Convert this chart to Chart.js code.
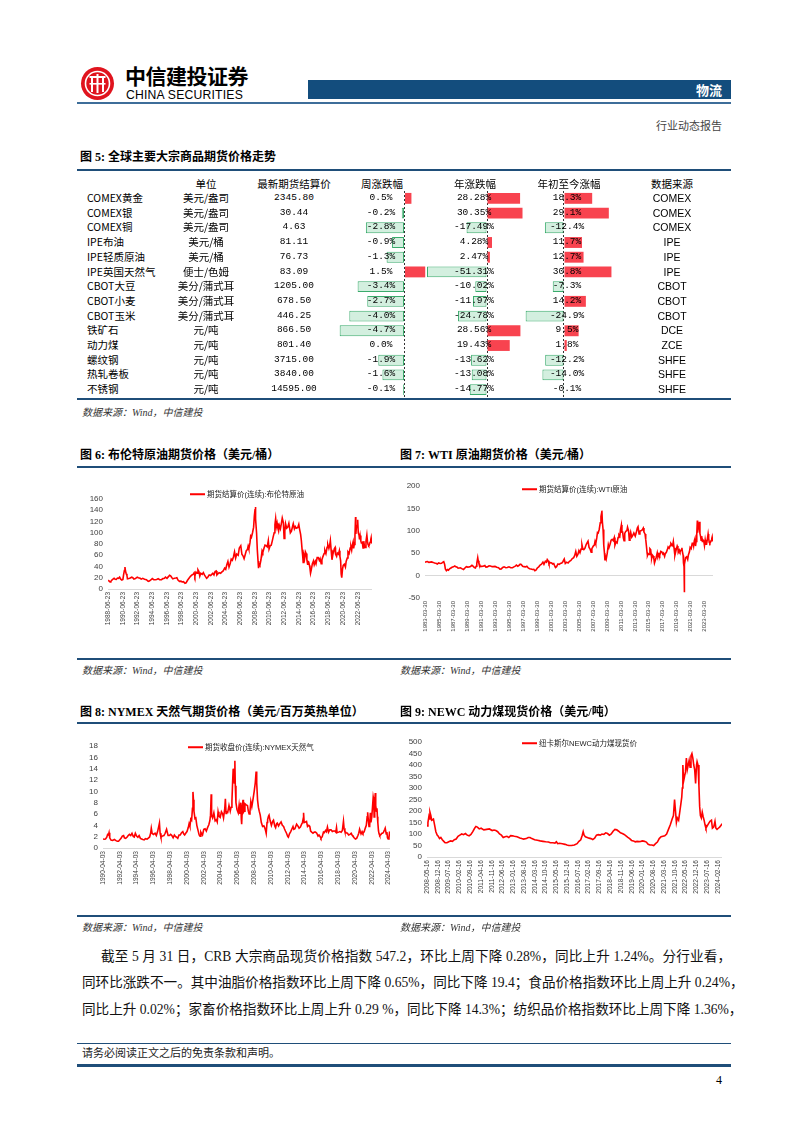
<!DOCTYPE html>
<html>
<head>
<meta charset="utf-8">
<script src="https://cdn.jsdelivr.net/npm/chart.js@4.4.1/dist/chart.umd.min.js"></script>
<style>
body{margin:0;background:#fff;}
#page{position:relative;width:802px;height:1133px;overflow:hidden;font-family:'Liberation Serif','Noto Sans CJK SC',serif;color:#000;}
.abs{position:absolute;white-space:nowrap;line-height:1.2;}
.rule{position:absolute;left:77px;width:654px;background:#1f4e79;}
canvas{position:absolute;}
</style>
</head>
<body>
<div id="page">
  <svg style="position:absolute;left:80px;top:66px" width="35" height="35" viewBox="0 0 35 35">
    <circle cx="17.5" cy="17.5" r="16.5" fill="#e0141e"/>
    <circle cx="17.5" cy="17.5" r="12" fill="none" stroke="#fff" stroke-width="1.6"/>
    <rect x="9.5" y="10" width="16" height="2" fill="#fff"/>
    <rect x="11" y="12" width="2" height="14" fill="#fff"/>
    <rect x="16.5" y="8" width="2" height="19" fill="#fff"/>
    <rect x="22" y="12" width="2" height="14" fill="#fff"/>
    <rect x="9.5" y="17" width="16" height="1.6" fill="#fff"/>
  </svg>
  <div style="position:absolute;left:308px;top:80px;width:423px;height:19px;background:#134d7d"></div>
  <div class="rule" style="top:102px;height:2px;background:#3d6d99"></div>
  <div class="rule" style="top:169px;height:2px"></div>
  <div class="rule" style="top:398px;height:2px"></div>
  <div class="rule" style="top:466px;height:2px"></div>
  <div class="rule" style="top:658px;height:2px"></div>
  <div class="rule" style="top:722px;height:2px"></div>
  <div class="rule" style="top:915px;height:2px"></div>
  <div class="rule" style="top:1043px;height:1px"></div>
  <div class="rule" style="top:1064px;height:3px"></div>

  <canvas id="barWeek" width="110" height="206" style="left:330px;top:191px"></canvas>
  <canvas id="barYear" width="110" height="206" style="left:420px;top:191px"></canvas>
  <canvas id="barYtd" width="110" height="206" style="left:515px;top:191px"></canvas>

  <canvas id="brent" width="300" height="152" style="left:78px;top:485px"></canvas>
  <canvas id="wti" width="328" height="166" style="left:392px;top:476px"></canvas>
  <canvas id="ng" width="320" height="162" style="left:76px;top:736px"></canvas>
  <canvas id="coal" width="336" height="175" style="left:392px;top:732px"></canvas>
</div>

<script>
// ---- 图5 表格数据 ----
const names = ['COMEX黄金','COMEX银','COMEX铜','IPE布油','IPE轻质原油','IPE英国天然气','CBOT大豆','CBOT小麦','CBOT玉米','铁矿石','动力煤','螺纹钢','热轧卷板','不锈钢'];
const units = ['美元/盎司','美元/盎司','美元/盎司','美元/桶','美元/桶','便士/色姆','美分/蒲式耳','美分/蒲式耳','美分/蒲式耳','元/吨','元/吨','元/吨','元/吨','元/吨'];
const prices = [2345.80, 30.44, 4.63, 81.11, 76.73, 83.09, 1205.00, 678.50, 446.25, 866.50, 801.40, 3715.00, 3840.00, 14595.00];
const weekChg = [0.5, -0.2, -2.8, -0.9, -1.3, 1.5, -3.4, -2.7, -4.0, -4.7, 0.0, -1.9, -1.6, -0.1];
const yearChg = [28.28, 30.35, -17.49, 4.28, 2.47, -51.31, -10.02, -11.97, -24.78, 28.56, 19.43, -13.62, -13.08, -14.77];
const ytdChg = [18.3, 29.1, -12.4, 11.7, 12.7, 30.8, -7.3, 14.2, -24.9, 9.5, 1.8, -12.2, -14.0, -0.1];
const sources = ['COMEX','COMEX','COMEX','IPE','IPE','IPE','CBOT','CBOT','CBOT','DCE','ZCE','SHFE','SHFE','SHFE'];
const tableHeads = ['单位','最新期货结算价','周涨跌幅','年涨跌幅','年初至今涨幅','数据来源'];

// ---- 图6 布伦特 [年, 价格] ----
const brentTicks = ['1988-06-23','1990-06-23','1992-06-23','1994-06-23','1996-06-23','1998-06-23','2000-06-23','2002-06-23','2004-06-23','2006-06-23','2008-06-23','2010-06-23','2012-06-23','2014-06-23','2016-06-23','2018-06-23','2020-06-23','2022-06-23'];
const brent = [[1988.48,15.5],[1988.6,14.5],[1988.75,12.5],[1988.85,13.5],[1989.0,16],[1989.15,17.5],[1989.3,19],[1989.45,17.5],[1989.6,17],[1989.75,19.5],[1989.9,19],[1990.05,21],[1990.2,17.5],[1990.35,16],[1990.5,17],[1990.6,26],[1990.7,33],[1990.78,39],[1990.85,32],[1990.95,27],[1991.05,24],[1991.12,18],[1991.3,18.5],[1991.5,19.5],[1991.7,21],[1991.85,20],[1992.0,17.5],[1992.2,18.5],[1992.45,21],[1992.6,20],[1992.85,19],[1993.0,17.5],[1993.2,19],[1993.45,17.5],[1993.7,16.5],[1993.95,13.5],[1994.1,14],[1994.3,16],[1994.5,18.5],[1994.7,16.5],[1994.9,16.5],[1995.1,17],[1995.3,18.5],[1995.5,16.5],[1995.75,16.5],[1995.95,18.5],[1996.15,19],[1996.3,21],[1996.5,19],[1996.7,22],[1996.85,24.5],[1997.0,23.5],[1997.15,20.5],[1997.3,18],[1997.5,19],[1997.7,19.5],[1997.85,20],[1998.0,16],[1998.2,13.5],[1998.4,14],[1998.55,12.5],[1998.75,13],[1998.95,10],[1999.1,11],[1999.3,15.5],[1999.5,19],[1999.7,22.5],[1999.9,25],[2000.05,26],[2000.2,29],[2000.3,23],[2000.45,30],[2000.6,28],[2000.72,34],[2000.85,31],[2000.97,23],[2001.1,28],[2001.3,26],[2001.45,29],[2001.6,25],[2001.75,22],[2001.9,19],[2002.05,21],[2002.25,25],[2002.45,24],[2002.6,26],[2002.75,28],[2002.9,25],[2003.05,31],[2003.2,32],[2003.3,25],[2003.45,27],[2003.6,29],[2003.8,28],[2003.95,30],[2004.15,32],[2004.35,37],[2004.5,35],[2004.65,43],[2004.8,49],[2004.95,39],[2005.1,45],[2005.25,53],[2005.4,51],[2005.55,57],[2005.7,66],[2005.85,55],[2006.0,62],[2006.2,60],[2006.35,73],[2006.55,77],[2006.7,62],[2006.85,59],[2007.0,54],[2007.15,61],[2007.3,68],[2007.45,70],[2007.55,76],[2007.65,71],[2007.8,82],[2007.9,94],[2008.0,92],[2008.15,100],[2008.3,110],[2008.4,130],[2008.5,142],[2008.53,146],[2008.6,125],[2008.7,100],[2008.8,70],[2008.9,50],[2008.97,37],[2009.05,44],[2009.15,42],[2009.3,52],[2009.45,68],[2009.55,65],[2009.7,72],[2009.85,78],[2010.0,77],[2010.15,75],[2010.3,86],[2010.4,71],[2010.55,77],[2010.7,78],[2010.85,86],[2010.97,93],[2011.1,100],[2011.2,114],[2011.3,125],[2011.4,111],[2011.5,117],[2011.6,108],[2011.7,103],[2011.8,113],[2011.95,107],[2012.1,118],[2012.2,126],[2012.35,118],[2012.45,90],[2012.55,103],[2012.65,116],[2012.8,108],[2012.95,110],[2013.1,117],[2013.3,100],[2013.45,103],[2013.6,111],[2013.7,116],[2013.85,107],[2013.97,111],[2014.1,108],[2014.3,109],[2014.45,115],[2014.55,107],[2014.7,97],[2014.8,86],[2014.9,70],[2015.0,56],[2015.05,47],[2015.15,60],[2015.25,55],[2015.35,66],[2015.45,63],[2015.55,52],[2015.65,44],[2015.7,49],[2015.8,48],[2015.9,42],[2015.97,37],[2016.05,28],[2016.15,34],[2016.3,45],[2016.45,50],[2016.55,43],[2016.7,49],[2016.8,45],[2016.95,56],[2017.1,56],[2017.25,51],[2017.35,54],[2017.5,45],[2017.6,52],[2017.75,58],[2017.9,63],[2018.0,69],[2018.15,63],[2018.3,74],[2018.4,79],[2018.55,72],[2018.65,77],[2018.75,86],[2018.85,70],[2018.97,52],[2019.1,62],[2019.3,72],[2019.4,74],[2019.45,62],[2019.6,58],[2019.7,64],[2019.85,62],[2019.97,68],[2020.05,58],[2020.15,50],[2020.22,27],[2020.3,20],[2020.4,35],[2020.5,42],[2020.65,44],[2020.8,39],[2020.9,49],[2021.05,55],[2021.15,66],[2021.3,63],[2021.45,73],[2021.55,75],[2021.65,69],[2021.75,79],[2021.85,84],[2021.92,72],[2022.0,79],[2022.1,95],[2022.18,128],[2022.22,98],[2022.3,110],[2022.4,113],[2022.47,123],[2022.55,100],[2022.65,96],[2022.72,88],[2022.8,95],[2022.9,85],[2022.97,82],[2023.1,83],[2023.2,73],[2023.3,85],[2023.4,75],[2023.5,74],[2023.6,85],[2023.72,96],[2023.8,85],[2023.88,79],[2023.97,77],[2024.05,78],[2024.15,83],[2024.25,88],[2024.3,91],[2024.35,83],[2024.42,81]];

// ---- 图7 WTI ----
const wtiTicks = ['1983-03-30','1985-03-30','1987-03-30','1989-03-30','1991-03-30','1993-03-30','1995-03-30','1997-03-30','1999-03-30','2001-03-30','2003-03-30','2005-03-30','2007-03-30','2009-03-30','2011-03-30','2013-03-30','2015-03-30','2017-03-30','2019-03-30','2021-03-30','2023-03-30'];
const wti = [[1983.24,29.5],[1983.4,31],[1983.6,31.5],[1983.8,29.5],[1984.0,30],[1984.2,30.5],[1984.4,29.5],[1984.6,28],[1984.8,27.5],[1985.0,26],[1985.2,28.5],[1985.4,27],[1985.6,27.5],[1985.8,30],[1985.92,31],[1986.05,25],[1986.15,15],[1986.3,11],[1986.45,13.5],[1986.6,12],[1986.75,15],[1986.95,17],[1987.1,18.5],[1987.3,19.5],[1987.5,21.5],[1987.65,19.5],[1987.85,18.5],[1987.97,16.5],[1988.1,16.5],[1988.3,17.5],[1988.5,15.5],[1988.75,13.5],[1988.95,17],[1989.15,20],[1989.35,19],[1989.55,19.5],[1989.75,20.5],[1989.95,23],[1990.1,21],[1990.3,18],[1990.45,17],[1990.55,21],[1990.65,28],[1990.78,40],[1990.85,33],[1990.95,27],[1991.05,25],[1991.12,20],[1991.3,20.5],[1991.55,21],[1991.8,22.5],[1991.95,19],[1992.15,19.5],[1992.4,22],[1992.6,21.5],[1992.85,20],[1993.0,20],[1993.25,20.5],[1993.5,18.5],[1993.75,17.5],[1993.95,14.5],[1994.15,15],[1994.35,18],[1994.55,19.5],[1994.8,17.5],[1995.0,18],[1995.25,19.5],[1995.5,17.5],[1995.75,17.5],[1995.95,19.5],[1996.15,21],[1996.3,23.5],[1996.5,21],[1996.7,23],[1996.85,25.5],[1997.0,25],[1997.2,21],[1997.4,20],[1997.6,19.5],[1997.8,21],[1998.0,17],[1998.2,15.5],[1998.4,14.5],[1998.6,13.5],[1998.8,14],[1998.95,11],[1999.1,12],[1999.3,17],[1999.5,19.5],[1999.7,23.5],[1999.9,25.5],[2000.1,30],[2000.25,25],[2000.45,32],[2000.6,30],[2000.72,36],[2000.85,33],[2000.97,26],[2001.15,29],[2001.35,28],[2001.5,26],[2001.65,27],[2001.8,21],[2001.9,18],[2002.05,20],[2002.25,26],[2002.45,25],[2002.6,27],[2002.8,28],[2002.95,31],[2003.15,37],[2003.3,27],[2003.5,30],[2003.7,28],[2003.9,32],[2004.1,34],[2004.3,38],[2004.5,40],[2004.65,45],[2004.8,54],[2004.95,43],[2005.1,47],[2005.25,56],[2005.4,51],[2005.55,59],[2005.68,69],[2005.8,60],[2005.95,58],[2006.1,61],[2006.3,70],[2006.55,77],[2006.7,63],[2006.85,59],[2007.0,52],[2007.1,60],[2007.3,66],[2007.45,68],[2007.55,76],[2007.65,71],[2007.8,84],[2007.9,96],[2008.0,95],[2008.15,103],[2008.3,118],[2008.4,132],[2008.5,140],[2008.53,145],[2008.6,120],[2008.7,103],[2008.8,68],[2008.9,50],[2008.97,34],[2009.05,42],[2009.15,37],[2009.3,50],[2009.45,69],[2009.55,63],[2009.7,70],[2009.85,79],[2010.0,81],[2010.15,78],[2010.3,85],[2010.4,68],[2010.55,75],[2010.7,73],[2010.85,85],[2010.97,91],[2011.1,88],[2011.2,103],[2011.32,113],[2011.4,97],[2011.5,97],[2011.6,84],[2011.7,78],[2011.8,94],[2011.95,99],[2012.1,100],[2012.2,108],[2012.35,100],[2012.45,79],[2012.55,89],[2012.65,97],[2012.8,86],[2012.95,90],[2013.1,95],[2013.3,88],[2013.45,96],[2013.6,106],[2013.7,109],[2013.85,93],[2013.97,99],[2014.1,100],[2014.3,102],[2014.45,106],[2014.55,97],[2014.7,93],[2014.8,81],[2014.9,66],[2015.0,50],[2015.05,45],[2015.15,49],[2015.3,47],[2015.4,60],[2015.5,58],[2015.6,45],[2015.65,39],[2015.75,46],[2015.85,44],[2015.97,37],[2016.05,28],[2016.15,33],[2016.3,41],[2016.45,51],[2016.55,42],[2016.7,48],[2016.8,45],[2016.95,54],[2017.1,53],[2017.25,48],[2017.35,50],[2017.5,43],[2017.6,49],[2017.75,52],[2017.9,58],[2018.0,64],[2018.15,61],[2018.3,67],[2018.4,72],[2018.55,69],[2018.65,67],[2018.75,76],[2018.85,62],[2018.97,45],[2019.1,54],[2019.3,66],[2019.4,62],[2019.45,52],[2019.6,57],[2019.7,53],[2019.85,57],[2019.97,62],[2020.05,53],[2020.15,45],[2020.2,28],[2020.28,20],[2020.3,-37],[2020.32,12],[2020.38,25],[2020.5,40],[2020.65,42],[2020.8,36],[2020.9,46],[2021.05,53],[2021.15,63],[2021.3,60],[2021.45,72],[2021.55,74],[2021.65,66],[2021.75,78],[2021.85,83],[2021.92,66],[2022.0,76],[2022.1,92],[2022.18,123],[2022.22,96],[2022.3,105],[2022.4,110],[2022.47,120],[2022.55,94],[2022.65,87],[2022.72,79],[2022.8,88],[2022.9,76],[2022.97,80],[2023.1,77],[2023.2,67],[2023.3,80],[2023.4,70],[2023.5,70],[2023.6,80],[2023.72,93],[2023.8,83],[2023.88,74],[2023.97,72],[2024.05,74],[2024.15,78],[2024.25,83],[2024.3,86],[2024.35,78],[2024.42,77]];

// ---- 图8 NYMEX天然气 ----
const ngTicks = ['1990-04-03','1992-04-03','1994-04-03','1996-04-03','1998-04-03','2000-04-03','2002-04-03','2004-04-03','2006-04-03','2008-04-03','2010-04-03','2012-04-03','2014-04-03','2016-04-03','2018-04-03','2020-04-03','2022-04-03','2024-04-03'];
const ng = [[1990.25,1.6],[1990.4,1.55],[1990.55,1.6],[1990.7,1.9],[1990.8,2.4],[1990.9,2.3],[1990.97,2.7],[1991.05,1.8],[1991.2,1.4],[1991.4,1.35],[1991.6,1.5],[1991.8,1.3],[1991.95,1.2],[1992.1,1.2],[1992.25,1.45],[1992.4,1.7],[1992.55,2.1],[1992.7,2.2],[1992.8,1.8],[1992.95,1.7],[1993.1,1.9],[1993.25,2.2],[1993.4,2.4],[1993.55,2.2],[1993.7,2.6],[1993.85,2.05],[1993.97,1.95],[1994.1,2.6],[1994.25,2.1],[1994.4,1.9],[1994.55,2.2],[1994.7,1.7],[1994.85,1.6],[1995.0,1.5],[1995.15,1.45],[1995.3,1.65],[1995.5,1.55],[1995.65,1.75],[1995.8,1.95],[1995.92,2.6],[1996.0,3.5],[1996.1,2.6],[1996.25,2.4],[1996.45,2.6],[1996.6,2.2],[1996.75,2.9],[1996.9,3.9],[1996.97,4.4],[1997.05,2.6],[1997.15,1.9],[1997.3,2.1],[1997.5,2.2],[1997.65,2.6],[1997.82,3.3],[1997.9,2.8],[1998.0,2.2],[1998.15,2.2],[1998.3,2.4],[1998.45,2.2],[1998.6,1.8],[1998.75,2.3],[1998.9,2.0],[1999.0,1.9],[1999.15,1.7],[1999.3,2.3],[1999.45,2.3],[1999.6,2.7],[1999.75,2.9],[1999.85,2.5],[1999.97,2.3],[2000.1,2.6],[2000.25,2.9],[2000.4,3.6],[2000.5,4.3],[2000.6,3.8],[2000.7,5.1],[2000.8,4.9],[2000.9,7.0],[2000.96,9.9],[2001.02,8.5],[2001.08,6.5],[2001.2,5.2],[2001.3,5.3],[2001.42,4.0],[2001.55,3.2],[2001.7,2.3],[2001.8,2.1],[2001.9,2.8],[2001.97,2.6],[2002.1,2.3],[2002.25,3.3],[2002.4,3.4],[2002.55,3.0],[2002.7,3.6],[2002.85,4.1],[2002.97,4.8],[2003.05,5.8],[2003.13,9.5],[2003.18,5.7],[2003.3,5.3],[2003.45,6.2],[2003.6,4.8],[2003.75,5.0],[2003.85,4.6],[2003.95,6.4],[2004.05,5.6],[2004.2,5.4],[2004.35,6.4],[2004.5,6.0],[2004.6,5.3],[2004.75,7.0],[2004.82,8.7],[2004.9,6.1],[2004.97,6.4],[2005.1,6.3],[2005.25,7.5],[2005.4,6.5],[2005.5,7.2],[2005.6,8.3],[2005.68,11.5],[2005.75,14.0],[2005.8,13.0],[2005.88,11.5],[2005.95,15.4],[2006.0,11.0],[2006.08,8.0],[2006.2,6.8],[2006.35,6.2],[2006.45,7.5],[2006.55,6.0],[2006.65,8.0],[2006.72,5.0],[2006.76,4.2],[2006.85,7.5],[2006.92,8.5],[2006.97,6.3],[2007.05,6.5],[2007.15,7.8],[2007.3,7.6],[2007.45,7.5],[2007.55,6.5],[2007.65,6.0],[2007.75,6.5],[2007.85,8.2],[2007.97,7.3],[2008.1,8.5],[2008.25,10.0],[2008.38,11.5],[2008.48,13.5],[2008.55,11.5],[2008.65,8.5],[2008.75,7.2],[2008.85,6.5],[2008.97,5.8],[2009.1,4.5],[2009.25,3.8],[2009.4,3.9],[2009.5,3.6],[2009.62,3.0],[2009.68,2.6],[2009.78,4.5],[2009.85,5.0],[2009.95,5.6],[2010.02,5.8],[2010.15,4.8],[2010.3,4.0],[2010.45,4.7],[2010.55,4.9],[2010.7,3.9],[2010.8,3.6],[2010.92,4.3],[2011.0,4.4],[2011.15,3.9],[2011.3,4.3],[2011.45,4.6],[2011.6,4.0],[2011.75,3.8],[2011.85,3.4],[2011.97,3.0],[2012.1,2.6],[2012.25,2.0],[2012.32,1.9],[2012.45,2.5],[2012.6,2.9],[2012.75,3.4],[2012.87,3.8],[2012.97,3.3],[2013.1,3.4],[2013.3,4.2],[2013.45,3.9],[2013.6,3.5],[2013.75,3.7],[2013.9,4.2],[2014.0,4.5],[2014.1,5.3],[2014.13,6.2],[2014.2,4.5],[2014.35,4.6],[2014.48,4.7],[2014.6,3.8],[2014.75,4.0],[2014.87,3.8],[2014.97,3.0],[2015.1,2.8],[2015.25,2.6],[2015.4,2.8],[2015.55,2.8],[2015.7,2.6],[2015.85,2.1],[2015.97,2.3],[2016.1,2.0],[2016.2,1.7],[2016.35,2.0],[2016.5,2.8],[2016.6,2.7],[2016.75,3.1],[2016.85,2.9],[2016.97,3.7],[2017.1,2.8],[2017.25,3.2],[2017.4,3.2],[2017.55,2.9],[2017.7,3.0],[2017.85,3.0],[2017.97,2.8],[2018.05,3.6],[2018.12,2.7],[2018.3,2.8],[2018.45,2.9],[2018.6,2.8],[2018.75,3.1],[2018.88,4.7],[2018.95,3.5],[2019.05,2.9],[2019.2,2.7],[2019.35,2.6],[2019.5,2.3],[2019.65,2.4],[2019.8,2.6],[2019.9,2.3],[2020.0,2.1],[2020.15,1.8],[2020.3,1.6],[2020.45,1.7],[2020.6,2.2],[2020.7,2.6],[2020.8,3.3],[2020.88,2.9],[2020.97,2.5],[2021.1,2.9],[2021.2,2.6],[2021.35,2.9],[2021.5,3.6],[2021.6,4.0],[2021.7,5.5],[2021.76,6.3],[2021.83,5.1],[2021.92,3.8],[2022.0,4.0],[2022.08,6.2],[2022.15,4.5],[2022.25,5.5],[2022.35,7.5],[2022.42,9.0],[2022.48,8.5],[2022.53,5.5],[2022.6,8.0],[2022.67,9.7],[2022.72,7.5],[2022.8,6.5],[2022.87,7.0],[2022.92,5.5],[2022.97,4.5],[2023.05,3.0],[2023.12,2.5],[2023.2,2.2],[2023.3,2.3],[2023.45,2.6],[2023.55,2.6],[2023.65,2.8],[2023.8,3.3],[2023.85,3.5],[2023.97,2.5],[2024.05,2.8],[2024.12,1.8],[2024.2,1.6],[2024.3,1.9],[2024.36,2.7],[2024.42,2.6]];

// ---- 图9 纽卡斯尔NEWC动力煤 ----
const coalTicks = ['2008-05-16','2008-12-16','2009-07-16','2010-02-16','2010-09-16','2011-04-16','2011-11-16','2012-06-16','2013-01-16','2013-08-16','2014-03-16','2014-10-16','2015-05-16','2015-12-16','2016-07-16','2017-02-16','2017-09-16','2018-04-16','2018-11-16','2019-06-16','2020-01-16','2020-08-16','2021-03-16','2021-10-16','2022-05-16','2022-12-16','2023-07-16','2024-02-16'];
const coal = [[2008.37,135],[2008.42,150],[2008.47,175],[2008.5,165],[2008.53,195],[2008.58,180],[2008.62,160],[2008.67,162],[2008.72,165],[2008.78,140],[2008.85,110],[2008.92,95],[2008.98,90],[2009.05,80],[2009.12,85],[2009.2,75],[2009.28,68],[2009.35,62],[2009.45,62],[2009.55,66],[2009.65,70],[2009.75,68],[2009.85,75],[2009.95,78],[2010.05,90],[2010.15,95],[2010.25,100],[2010.35,97],[2010.45,102],[2010.55,95],[2010.65,92],[2010.75,98],[2010.85,110],[2010.95,125],[2011.02,133],[2011.1,130],[2011.2,122],[2011.3,125],[2011.45,118],[2011.6,120],[2011.75,122],[2011.9,115],[2012.0,117],[2012.1,115],[2012.2,110],[2012.3,100],[2012.4,95],[2012.5,85],[2012.6,88],[2012.7,90],[2012.8,85],[2012.9,93],[2013.0,92],[2013.1,90],[2013.25,88],[2013.4,83],[2013.5,80],[2013.6,78],[2013.75,80],[2013.85,85],[2013.95,85],[2014.05,80],[2014.2,75],[2014.35,73],[2014.5,70],[2014.65,68],[2014.8,66],[2014.95,65],[2015.05,62],[2015.2,62],[2015.3,60],[2015.38,66],[2015.45,58],[2015.55,60],[2015.7,58],[2015.85,55],[2015.95,52],[2016.05,50],[2016.2,50],[2016.35,52],[2016.5,58],[2016.6,68],[2016.7,75],[2016.78,95],[2016.83,110],[2016.88,95],[2016.95,88],[2017.05,85],[2017.15,82],[2017.25,80],[2017.35,76],[2017.45,82],[2017.55,95],[2017.65,97],[2017.75,95],[2017.85,100],[2017.95,98],[2018.05,105],[2018.15,102],[2018.25,95],[2018.35,100],[2018.45,112],[2018.55,120],[2018.65,118],[2018.75,112],[2018.85,105],[2018.95,102],[2019.05,98],[2019.15,92],[2019.25,85],[2019.35,80],[2019.45,72],[2019.55,70],[2019.65,66],[2019.75,68],[2019.85,67],[2019.95,68],[2020.05,70],[2020.15,68],[2020.25,65],[2020.35,55],[2020.45,52],[2020.55,52],[2020.65,50],[2020.75,58],[2020.85,65],[2020.95,80],[2021.05,88],[2021.15,90],[2021.25,92],[2021.35,100],[2021.45,120],[2021.55,140],[2021.65,165],[2021.72,180],[2021.78,250],[2021.83,200],[2021.88,150],[2021.93,170],[2022.0,160],[2022.07,200],[2022.12,230],[2022.17,260],[2022.2,300],[2022.23,400],[2022.27,330],[2022.32,350],[2022.37,370],[2022.42,430],[2022.47,380],[2022.52,400],[2022.57,420],[2022.62,390],[2022.67,440],[2022.72,450],[2022.77,430],[2022.82,400],[2022.87,380],[2022.92,320],[2022.97,400],[2023.0,415],[2023.05,400],[2023.1,310],[2023.14,220],[2023.18,180],[2023.23,170],[2023.28,195],[2023.33,175],[2023.38,160],[2023.43,140],[2023.48,125],[2023.55,135],[2023.62,145],[2023.7,155],[2023.78,160],[2023.83,125],[2023.9,130],[2023.97,155],[2024.02,125],[2024.08,120],[2024.15,125],[2024.22,130],[2024.3,138],[2024.35,145]];

const page = document.getElementById('page');
const SANS = "'Liberation Sans','Noto Sans CJK SC',sans-serif";
const CJK = "'Noto Sans CJK SC',sans-serif";
const SERIF = "'Liberation Serif','Noto Sans CJK SC',serif";

function put(txt, x, y, css, align) {
  const d = document.createElement('div');
  d.className = 'abs';
  d.textContent = txt;
  d.style.cssText = css || '';
  d.style.left = x + 'px';
  d.style.top = y + 'px';
  const tx = align === 'c' ? '-50%' : (align === 'r' ? '-100%' : '0');
  d.style.transform = 'translate(' + tx + ',-50%)';
  page.appendChild(d);
  return d;
}

// 日期 -> 小数年份
function toYear(s) {
  const p = s.split('-').map(Number);
  return p[0] + (p[1] - 1) / 12 + (p[2] - 1) / 365;
}

// ---- 页眉 ----
put('中信建投证券', 125, 76, 'font-family:' + CJK + ';font-weight:bold;font-size:21px;letter-spacing:-0.5px');
put('CHINA SECURITIES', 126, 95, 'font-family:' + SANS + ';font-size:12.2px;letter-spacing:0.2px');
put('物流', 722, 89.5, 'font-family:' + CJK + ';font-weight:bold;font-size:13px;color:#fff', 'r');
put('行业动态报告', 722, 127, 'font-family:' + SERIF + ';font-size:11px;color:#444', 'r');

// ---- 标题 ----
const capCss = 'font-family:' + SERIF + ';font-weight:bold;font-size:12px';
put('图 5: 全球主要大宗商品期货价格走势', 80, 157, capCss);
put('图 6: 布伦特原油期货价格（美元/桶）', 80, 455, capCss);
put('图 7: WTI 原油期货价格（美元/桶）', 400, 455, capCss);
put('图 8: NYMEX 天然气期货价格（美元/百万英热单位）', 80, 712, capCss);
put('图 9: NEWC 动力煤现货价格（美元/吨）', 400, 712, capCss);

const srcCss = 'font-family:' + SERIF + ';font-style:italic;font-size:10px;color:#333';
put('数据来源：Wind，中信建投', 82, 413, srcCss);
put('数据来源：Wind，中信建投', 82, 671, srcCss);
put('数据来源：Wind，中信建投', 400, 671, srcCss);
put('数据来源：Wind，中信建投', 82, 928, srcCss);
put('数据来源：Wind，中信建投', 400, 928, srcCss);

// ---- 正文 ----
const paraCss = 'font-family:' + SERIF + ';font-size:13.6px;color:#111;text-align:justify;text-align-last:justify;white-space:nowrap';
const l1 = put('截至 5 月 31 日，CRB 大宗商品现货价格指数 547.2，环比上周下降 0.28%，同比上升 1.24%。分行业看，', 101, 957, paraCss); l1.style.width = '630px';
const l2 = put('同环比涨跌不一。其中油脂价格指数环比上周下降 0.65%，同比下降 19.4；食品价格指数环比上周上升 0.24%，', 82, 983, paraCss); l2.style.width = '649px';
const l3 = put('同比上升 0.02%；家畜价格指数环比上周上升 0.29 %，同比下降 14.3%；纺织品价格指数环比上周下降 1.36%，', 82, 1010, paraCss); l3.style.width = '649px';

// ---- 页脚 ----
put('请务必阅读正文之后的免责条款和声明。', 82, 1054, 'font-family:' + SERIF + ';font-size:11px;color:#222');
put('4', 722, 1080, 'font-family:' + SERIF + ';font-size:12px', 'r');

// ---- 表格文字 ----
const headX = [206, 294, 382, 475, 569, 672];
tableHeads.forEach((h, i) => put(h, headX[i], 184, 'font-family:' + CJK + ';font-size:10.5px', 'c'));
const numCss = "font-family:'Liberation Mono',monospace;font-size:9.5px";
names.forEach((n, i) => {
  const y = 198 + i * 14.7;
  put(n, 87, y, 'font-family:' + CJK + ';font-size:10.5px');
  put(units[i], 206, y, 'font-family:' + CJK + ';font-size:10.5px', 'c');
  put(prices[i].toFixed(2), 294, y, numCss, 'c');
  put(weekChg[i].toFixed(1) + '%', 381, y, numCss, 'c');
  put(yearChg[i].toFixed(2) + '%', 474, y, numCss, 'c');
  put(ytdChg[i].toFixed(1) + '%', 567, y, numCss, 'c');
  put(sources[i], 672, y, 'font-family:' + SANS + ';font-size:10.5px', 'c');
});

// ---- 表格数据条 ----
function dataBar(id, values, min, max, step) {
  return new Chart(document.getElementById(id), {
    type: 'bar',
    data: {
      labels: names,
      datasets: [{
        data: values,
        backgroundColor: c => c.raw >= 0 ? '#f8434f' : '#d3efdf',
        borderColor: c => c.raw >= 0 ? '#f8434f' : '#3aab6c',
        borderWidth: c => c.raw >= 0 ? 0 : 1,
        borderSkipped: false,
        categoryPercentage: 1,
        barPercentage: 0.74
      }]
    },
    options: {
      indexAxis: 'y', responsive: false, animation: false,
      layout: { padding: 0 },
      plugins: { legend: { display: false }, tooltip: { enabled: false } },
      scales: {
        x: {
          min: min, max: max,
          ticks: { display: false, stepSize: step },
          grid: { drawTicks: false, lineWidth: 1, color: c => Math.abs(c.tick.value) < 1e-9 ? '#333' : 'rgba(0,0,0,0)' },
          border: { display: false, dash: [2, 2] }
        },
        y: { display: false }
      }
    }
  });
}
dataBar('barWeek', weekChg, -5.4, 2.57, 1);
dataBar('barYear', yearChg, -57.3, 36.75, 10);
dataBar('barYtd', ytdChg, -31.8, 39.6, 10);

// ---- 折线图 ----
function htmlLegend(chart, x, y) {
  const ds = chart.data.datasets[0];
  const d = put('', x, y, 'font-family:' + SANS + ';font-size:7.5px;color:#222');
  const sw = document.createElement('span');
  sw.style.cssText = 'display:inline-block;width:15px;height:2px;margin-right:2px;vertical-align:middle;background:' + ds.borderColor;
  const tx = document.createElement('span');
  tx.style.verticalAlign = 'middle';
  tx.textContent = ds.label;
  d.appendChild(sw);
  d.appendChild(tx);
}

function lineChart(id, pairs, cfg) {
  const chart = new Chart(document.getElementById(id), {
    type: 'line',
    data: {
      datasets: [{
        label: cfg.label,
        data: pairs.map(p => ({ x: p[0], y: p[1] })),
        borderColor: '#ff0000',
        backgroundColor: '#ff0000',
        borderWidth: 1.6,
        pointRadius: 0,
        tension: 0,
        fill: false
      }]
    },
    options: {
      responsive: false, animation: false,
      layout: { padding: { top: cfg.padTop, right: cfg.padRight, left: 0, bottom: 0 } },
      plugins: { tooltip: { enabled: false }, legend: { display: false } },
      scales: {
        x: {
          type: 'linear', min: cfg.xMin, max: cfg.xMax,
          afterBuildTicks: s => { s.ticks = cfg.ticks.map(t => ({ value: toYear(t) })); },
          afterFit: s => { s.height = cfg.xHeight; },
          ticks: {
            autoSkip: false, minRotation: 90, maxRotation: 90, padding: -5,
            color: '#404040', font: { family: SANS, size: cfg.xFont },
            callback: (v, i) => cfg.ticks[i]
          },
          grid: { display: false },
          border: { display: false }
        },
        y: {
          min: cfg.yMin, max: cfg.yMax,
          afterFit: s => { s.width = cfg.yWidth; },
          ticks: { stepSize: cfg.yStep, autoSkip: false, padding: 5, color: '#404040', font: { family: SANS, size: 8 } },
          grid: { drawTicks: false, color: c => c.tick.value === 0 ? '#d9d9d9' : 'rgba(0,0,0,0)' },
          border: { display: false }
        }
      }
    }
  });
  htmlLegend(chart, cfg.legendX, cfg.legendY);
  return chart;
}

lineChart('brent', brent, {
  label: '期货结算价(连续):布伦特原油', ticks: brentTicks,
  xMin: 1988.47, xMax: 2024.42, yMin: 0, yMax: 160, yStep: 20,
  yWidth: 30, xHeight: 48, padTop: 14, padRight: 6, xFont: 6.5, legendX: 190, legendY: 494
});
lineChart('wti', wti, {
  label: '期货结算价(连续):WTI原油', ticks: wtiTicks,
  xMin: 1983.24, xMax: 2024.42, yMin: -50, yMax: 200, yStep: 50,
  yWidth: 33, xHeight: 44, padTop: 10, padRight: 7, xFont: 6, legendX: 522, legendY: 489
});
lineChart('ng', ng, {
  label: '期货收盘价(连续):NYMEX天然气', ticks: ngTicks,
  xMin: 1990.25, xMax: 2024.42, yMin: 0, yMax: 18, yStep: 2,
  yWidth: 27, xHeight: 50, padTop: 10, padRight: 6, xFont: 6.6, legendX: 188, legendY: 747
});
lineChart('coal', coal, {
  label: '纽卡斯尔NEWC动力煤现货价', ticks: coalTicks,
  xMin: 2008.37, xMax: 2024.35, yMin: 0, yMax: 500, yStep: 50,
  yWidth: 35, xHeight: 50, padTop: 10, padRight: 6, xFont: 6.6, legendX: 522, legendY: 743
});
</script>
</body>
</html>
